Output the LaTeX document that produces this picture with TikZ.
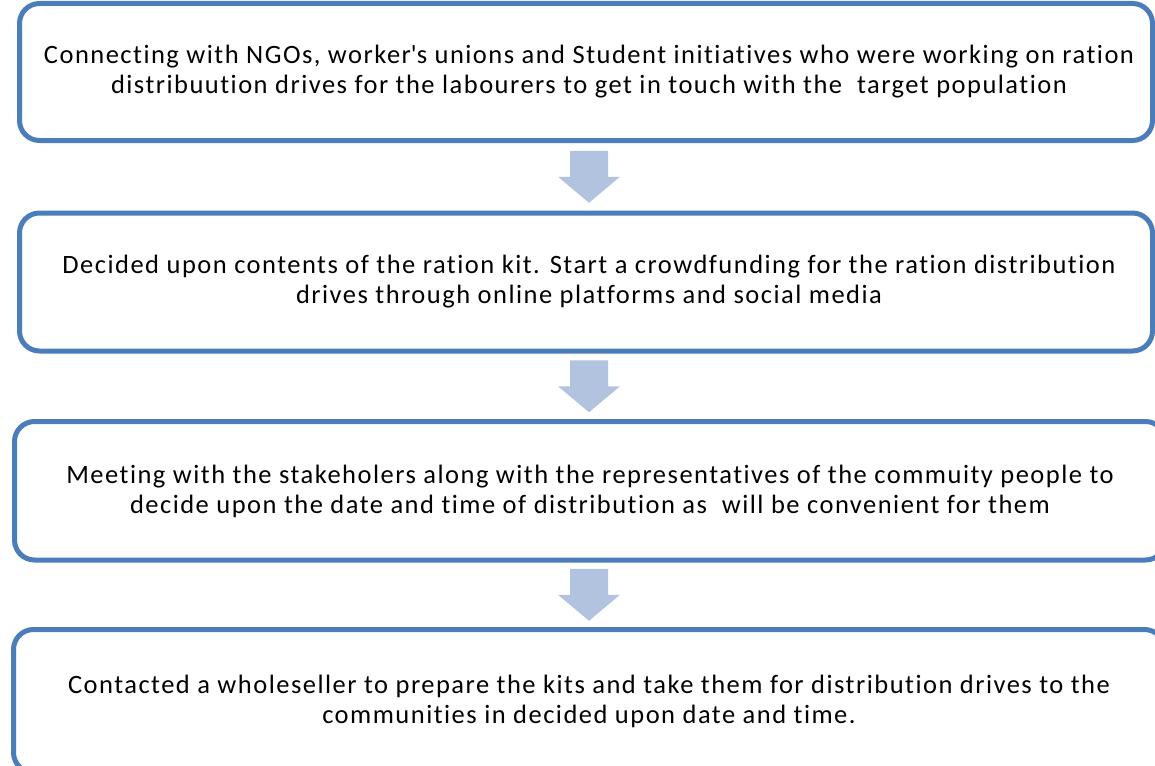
\documentclass[tikz,border=0pt]{standalone}
\usepackage{fontspec}
\setmainfont{Carlito}[Ligatures=NoCommon, LetterSpace=5.6]
\usetikzlibrary{calc}
\definecolor{boxline}{HTML}{4A7DBA}
\definecolor{arrowfill}{HTML}{B1C3DF}
\begin{document}
\begin{tikzpicture}[x=1pt,y=-1pt,
  stepbox/.style={draw=boxline, line width=5pt, rounded corners=20pt, fill=white, inner sep=0pt},
  steptext/.style={align=center, font=\fontsize{26.5}{30}\selectfont, inner sep=0pt},
  pics/downarrow/.style={code={
    \fill[arrowfill] (-19,-26) -- (19,-26) -- (19,0) -- (31,0) -- (0,26) -- (-31,0) -- (-19,0) -- cycle;}}]
\useasboundingbox (0,0) rectangle (1155,765);
\clip (0,0) rectangle (1155,765);

% step frames
\node[stepbox, minimum width=1133pt, minimum height=137pt]   (box1) at (586,72)     {};
\node[stepbox, minimum width=1133pt, minimum height=138pt]   (box2) at (586,282)    {};
\node[stepbox, minimum width=1151pt, minimum height=138.5pt] (box3) at (590,490.75) {};
\node[stepbox, minimum width=1151pt, minimum height=143pt]   (box4) at (589,701)    {};

% step texts
\node[steptext] (txt1) at (589,72)  {Connecting with NGOs, worker\textquotesingle s unions and Student initiatives who were working on ration\\ distribuution drives for the labourers to get in touch with the~ target population};
\node[steptext] (txt2) at (589,282) {Decided upon contents of the ration kit. Start a crowdfunding for the ration distribution\\ drives through online platforms and social media};
\node[steptext] (txt3) at (590,491) {Meeting with the stakeholers along with the representatives of the commuity people to\\ decide upon the date and time of distribution as~ will be convenient for them};
\node[steptext] (txt4) at (589,701) {Contacted a wholeseller to prepare the kits and take them for distribution drives to the\\ communities in decided upon date and time.};

% block arrows between consecutive steps
\coordinate (m1) at ($(box1.south)!0.5!(box2.north)$);
\coordinate (m2) at ($(box2.south)!0.5!(box3.north)$);
\coordinate (m3) at ($(box3.south)!0.5!(box4.north)$);
\pic at (m1 -| txt1) {downarrow};
\pic at (m2 -| txt1) {downarrow};
\pic at (m3 -| txt1) {downarrow};
\end{tikzpicture}
\end{document}
